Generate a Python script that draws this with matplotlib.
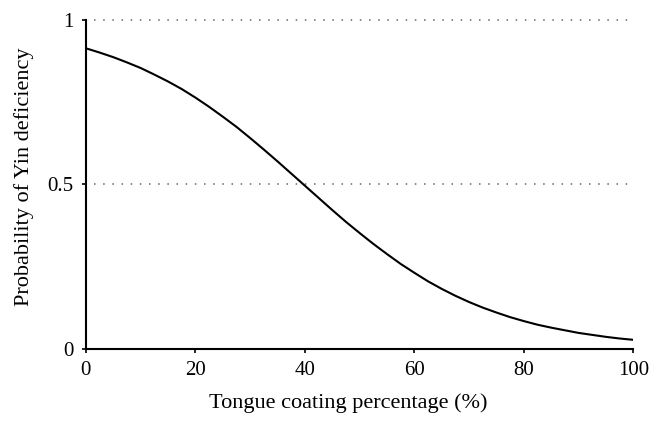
import matplotlib
matplotlib.use("Agg")
import matplotlib.pyplot as plt

# values
coating_pct = [0, 2.5, 5, 7.5, 10, 12.5, 15, 17.5, 20, 22.5, 25, 27.5, 30, 32.5, 35, 37.5,
               40, 42.5, 45, 47.5, 50, 52.5, 55, 57.5, 60, 62.5, 65, 67.5, 70, 72.5, 75,
               77.5, 80, 82.5, 85, 87.5, 90, 92.5, 95, 97.5, 100]
prob_yin = [0.914, 0.901, 0.887, 0.871, 0.854, 0.834, 0.813, 0.790, 0.764, 0.736, 0.706,
            0.675, 0.641, 0.606, 0.570, 0.533, 0.496, 0.459, 0.422, 0.386, 0.352, 0.319,
            0.288, 0.258, 0.231, 0.205, 0.182, 0.161, 0.142, 0.125, 0.110, 0.096, 0.084,
            0.073, 0.064, 0.056, 0.048, 0.042, 0.036, 0.031, 0.027]
x_ticks = [0, 20, 40, 60, 80, 100]
y_ticks = [0, 0.5, 1]
y_tick_labels = ["0", "0.5", "1"]

plt.rcParams['font.family'] = ['Liberation Serif', 'DejaVu Serif']

fig = plt.figure(figsize=(6.61, 4.26), dpi=100)
ax = fig.add_axes([0.130, 0.1815, 0.828, 0.7715])

# dotted reference lines
for yv in [0.5, 1.0]:
    ax.plot([1.5, 99], [yv, yv], color="#666666", lw=1.1, linestyle=(0, (1, 5)), clip_on=False)

ax.plot(coating_pct, prob_yin, color="black", lw=1.5)

ax.set_xlim(0, 100)
ax.set_ylim(0, 1)
ax.set_xticks(x_ticks)
ax.set_yticks(y_ticks)
ax.set_yticklabels(y_tick_labels)
ax.tick_params(direction="out", length=3, width=1.2, labelsize=15, pad=6)

for s in ["top", "right"]:
    ax.spines[s].set_visible(False)
for s in ["left", "bottom"]:
    ax.spines[s].set_linewidth(1.5)

ax.set_xlabel("Tongue coating percentage (%)", fontsize=16)
ax.set_ylabel("Probability of Yin deficiency", fontsize=16)
ax.xaxis.set_label_coords(0.479, -0.135)
ax.yaxis.set_label_coords(-0.095, 0.524)

fig.savefig("out.png", dpi=100)
